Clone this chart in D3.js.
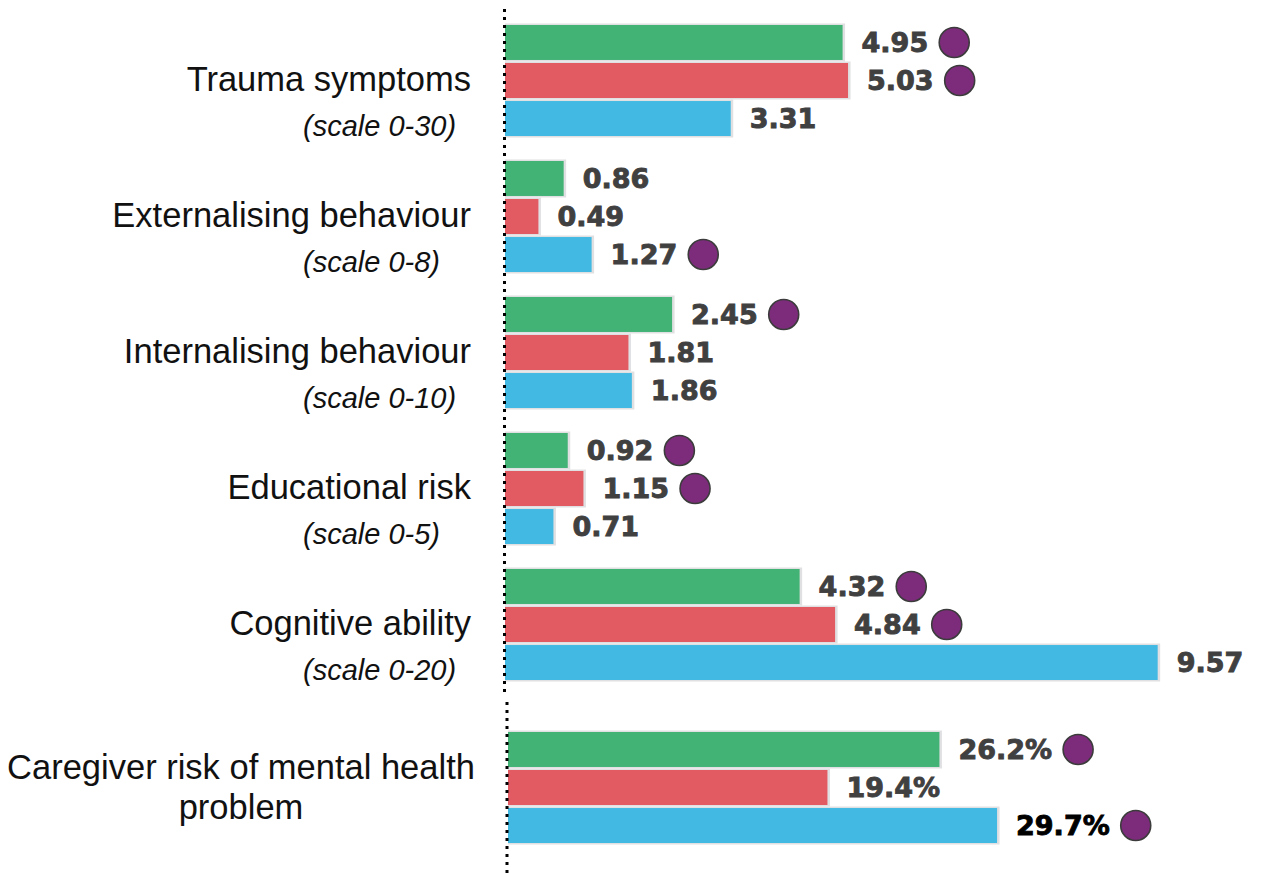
<!DOCTYPE html>
<html>
<head>
<meta charset="utf-8">
<script src="https://cdn.jsdelivr.net/npm/d3@7"></script>
<style>
  html, body { margin: 0; padding: 0; background: #ffffff; }
  svg { display: block; }
</style>
</head>
<body>
<svg id="chart" width="1263" height="873"></svg>
<script>
// Outcome measures, three comparison groups
const categories = [
  "Trauma symptoms",
  "Externalising behaviour",
  "Internalising behaviour",
  "Educational risk",
  "Cognitive ability",
  "Caregiver risk of mental health problem"
];
const scaleNotes = ["(scale 0-30)", "(scale 0-8)", "(scale 0-10)", "(scale 0-5)", "(scale 0-20)", ""];
const seriesKeys = ["green", "red", "blue"];
const greenValues = [4.95, 0.86, 2.45, 0.92, 4.32, 26.2];
const redValues   = [5.03, 0.49, 1.81, 1.15, 4.84, 19.4];
const blueValues  = [3.31, 1.27, 1.86, 0.71, 9.57, 29.7];
// significance markers (purple dot after the value)
const greenSig = [true, false, true, true, true, true];
const redSig   = [true, false, false, true, true, false];
const blueSig  = [false, true, false, false, false, true];
const percentCategory = "Caregiver risk of mental health problem";

const colors = { green: "#42b375", red: "#e25a62", blue: "#41b9e2" };
const values = { green: greenValues, red: redValues, blue: blueValues };
const sigs = { green: greenSig, red: redSig, blue: blueSig };

const svg = d3.select("#chart");

// horizontal scales: scale scores and percentage panel
const xScore = d3.scaleLinear().domain([0, 10]).range([505, 1187]);
const xPct = d3.scaleLinear().domain([0, 30]).range([508, 1002]);

// vertical: one band per category, percentage panel pushed down a little
const panelGap = 27;
const yGroup = d3.scaleBand().domain(categories).range([25, 25 + 136 * categories.length]);
const groupTop = c => yGroup(c) + (c === percentCategory ? panelGap : 0);
const yInner = d3.scaleBand().domain(seriesKeys).range([0, 111]).paddingInner(0.08);

const rows = [];
categories.forEach((c, i) => {
  seriesKeys.forEach(k => {
    rows.push({ cat: c, idx: i, key: k, value: values[k][i], sig: sigs[k][i] });
  });
});

const xFor = d => (d.cat === percentCategory ? xPct : xScore);

// bars with a soft grey outline
const bars = svg.append("g");
bars.selectAll("rect.outline").data(rows).join("rect")
  .attr("class", "outline")
  .attr("x", d => xFor(d)(0))
  .attr("y", d => groupTop(d.cat) + yInner(d.key) - 1.5)
  .attr("width", d => xFor(d)(d.value) - xFor(d)(0) + 2.5)
  .attr("height", yInner.bandwidth() + 3)
  .attr("fill", "#e0e0e2");
bars.selectAll("rect.bar").data(rows).join("rect")
  .attr("class", "bar")
  .attr("x", d => xFor(d)(0))
  .attr("y", d => groupTop(d.cat) + yInner(d.key))
  .attr("width", d => xFor(d)(d.value) - xFor(d)(0))
  .attr("height", yInner.bandwidth())
  .attr("fill", d => colors[d.key]);

// value labels
const fmt = d => (d.cat === percentCategory ? d.value.toFixed(1) + "%" : d.value.toFixed(2));
const labelColor = d => (d.cat === percentCategory && d.key === "blue") ? "#000000" : "#404040";
const labels = svg.append("g")
  .attr("font-family", "'DejaVu Sans', sans-serif")
  .attr("font-weight", "bold")
  .attr("font-size", 27);
labels.selectAll("text").data(rows).join("text")
  .attr("x", d => xFor(d)(d.value) + 19)
  .attr("y", d => groupTop(d.cat) + yInner(d.key) + yInner.bandwidth() / 2)
  .attr("dy", "0.36em")
  .attr("fill", labelColor)
  .attr("stroke", labelColor)
  .attr("stroke-width", 0.9)
  .text(fmt)
  .each(function (d) { d.labelEnd = xFor(d)(d.value) + 19 + this.getComputedTextLength(); });

// significance dots
svg.append("g").selectAll("circle").data(rows.filter(d => d.sig)).join("circle")
  .attr("cx", d => d.labelEnd + 26)
  .attr("cy", d => groupTop(d.cat) + yInner(d.key) + yInner.bandwidth() / 2)
  .attr("r", 15)
  .attr("fill", "#7d2b7b")
  .attr("stroke", "#3c3c3c")
  .attr("stroke-width", 1.6);

// category names and scale notes
const names = svg.append("g").attr("font-family", "'Liberation Sans', Arial, sans-serif").attr("fill", "#111111");
categories.forEach((c, i) => {
  const top = groupTop(c);
  if (c === percentCategory) {
    const t = names.append("text")
      .attr("text-anchor", "middle")
      .attr("font-size", 34.5);
    t.append("tspan").attr("x", 241).attr("y", top + 47).text("Caregiver risk of mental health");
    t.append("tspan").attr("x", 241).attr("y", top + 87).text("problem");
  } else {
    names.append("text")
      .attr("x", 471)
      .attr("y", top + 66)
      .attr("text-anchor", "end")
      .attr("font-size", 34.5)
      .text(c);
    names.append("text")
      .attr("x", 303)
      .attr("y", top + 111)
      .attr("font-size", 29)
      .attr("font-style", "italic")
      .text(scaleNotes[i]);
  }
});

// dotted baselines
const axes = svg.append("g")
  .attr("stroke", "#000")
  .attr("stroke-width", 3)
  .attr("stroke-dasharray", "3,5");
axes.append("line")
  .attr("x1", xScore(0) - 0.5).attr("x2", xScore(0) - 0.5)
  .attr("y1", 9).attr("y2", groupTop(categories[4]) + 123);
axes.append("line")
  .attr("x1", xPct(0) - 1).attr("x2", xPct(0) - 1)
  .attr("y1", groupTop(percentCategory) - 30).attr("y2", 873);
</script>
</body>
</html>
